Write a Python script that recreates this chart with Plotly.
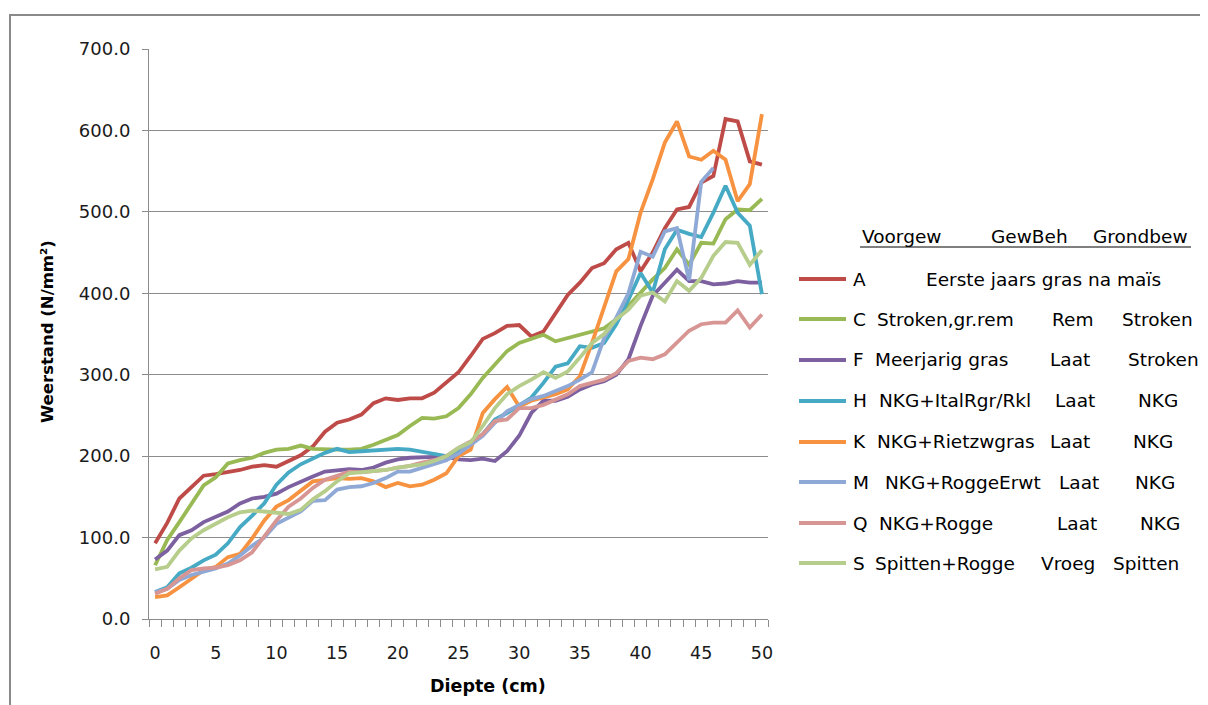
import plotly.graph_objects as go

depth = list(range(51))

A = [93,118,148,162,176,178,180,183,187,189,187,194,201,212,230,241,245,251,265,271,269,271,271,278,290,303,323,344,351,360,361,347,353,376,398,413,431,437,454,462,427,450,480,503,506,536,544,614,611,562,558]
C = [66,97,119,142,164,174,191,195,198,204,208,209,213,209,208,208,208,209,214,220,226,237,247,246,249,259,276,296,312,329,339,344,349,341,345,349,354,357,368,384,401,417,431,454,435,462,461,491,503,502,516]
F = [73,84,103,109,119,125,132,142,148,150,154,162,169,175,181,183,184,183,186,192,196,198,199,199,199,196,195,197,194,206,225,253,268,268,273,282,288,292,300,319,360,397,413,429,415,415,411,412,415,413,413]
H = [33,39,56,63,72,79,93,113,127,142,165,180,190,197,204,209,205,206,207,209,209,208,205,202,200,206,214,227,245,253,263,272,290,310,314,335,333,339,362,392,425,401,454,478,473,469,499,532,499,483,399]
K = [27,29,39,50,60,64,76,80,99,121,138,146,158,169,171,173,172,173,169,162,167,163,165,171,179,200,208,253,270,285,261,268,272,276,282,298,339,382,427,442,499,540,585,611,568,564,575,564,513,534,620]
M = [33,37,48,54,58,62,68,78,90,100,117,125,132,145,146,159,162,163,167,173,181,181,186,190,195,203,214,225,241,255,263,270,274,280,286,294,303,345,370,400,451,445,476,480,416,537,554]
Q = [31,37,50,60,62,63,66,72,82,101,121,138,148,161,171,176,181,180,181,183,186,188,192,195,200,210,218,227,243,245,259,259,263,270,276,286,290,294,302,317,321,319,325,339,354,362,364,364,379,358,374]
S = [61,64,84,99,109,117,125,131,133,132,131,129,134,147,157,169,179,180,181,183,186,188,190,194,200,210,217,237,259,276,286,294,303,296,304,321,339,350,368,380,397,401,390,415,403,419,446,463,462,435,453]

letters = ["A", "C", "F", "H", "K", "M", "Q", "S"]
series = [A, C, F, H, K, M, Q, S]
colors = ["#BE4B48", "#98B954", "#7D60A0", "#46AAC5", "#F69240", "#8FA9D6", "#D79593", "#B7CD8C"]

voorgew = ["Eerste jaars gras na maïs", "Stroken,gr.rem", "Meerjarig gras", "NKG+ItalRgr/Rkl",
           "NKG+Rietzwgras", "NKG+RoggeErwt", "NKG+Rogge", "Spitten+Rogge"]
gewbeh = ["", "Rem", "Laat", "Laat", "Laat", "Laat", "Laat", "Vroeg"]
grondbew = ["", "Stroken", "Stroken", "NKG", "NKG", "NKG", "NKG", "Spitten"]
headers = ["Voorgew", "GewBeh", "Grondbew"]
yticks = [0, 100, 200, 300, 400, 500, 600, 700]
xticks = [0, 5, 10, 15, 20, 25, 30, 35, 40, 45, 50]

# layout geometry (screen pixels); page body has an 8px margin
OFF = 8
W, H_ = 1208, 705
L, R, T, B = 149, 768, 49, 619

def px(x):
    return (x - L) / (R - L)

def py(y):
    return (B - y) / (B - T)

FONT = "DejaVu Sans"
TXT = "#1A1A1A"
fig = go.Figure()
for name, ys, col in zip(letters, series, colors):
    fig.add_trace(go.Scatter(x=depth[:len(ys)], y=ys, mode="lines", name=name,
                             line=dict(color=col, width=3.8), showlegend=False))

grid = "#8C8C8C"
fig.update_layout(
    width=W, height=H_,
    margin=dict(l=L - OFF, r=W - R + OFF, t=T - OFF, b=H_ - B + OFF),
    paper_bgcolor="white", plot_bgcolor="white",
    font=dict(family=FONT, size=17, color=TXT),
    showlegend=False,
)
fig.update_xaxes(
    range=[-0.5, 50.5], tickmode="array", tickvals=xticks, ticktext=[str(v) for v in xticks],
    ticks="", showgrid=False, showline=True, linecolor=grid, linewidth=1,
    ticklabelstandoff=18, tickfont=dict(family=FONT, size=17.5, color=TXT),
    minor=dict(tickmode="array", tickvals=[i - 0.5 for i in range(52)], ticks="outside",
               ticklen=7, tickcolor=grid, showgrid=False),
    zeroline=False,
)
fig.update_yaxes(
    range=[0, 700], tickmode="array", tickvals=yticks, ticktext=[f"{v:.1f}" for v in yticks],
    ticks="outside", ticklen=6, tickcolor=grid, showgrid=True, gridcolor=grid, gridwidth=1,
    showline=True, linecolor=grid, linewidth=1, zeroline=False,
    ticklabelstandoff=8, tickfont=dict(family=FONT, size=18, color=TXT),
)

shapes = []
ann = []
# outer chart frame
shapes.append(dict(type="rect", xref="paper", yref="paper", x0=px(10), x1=px(1260), y0=py(760), y1=py(15),
                   line=dict(color="#8A8A8A", width=2), fillcolor="rgba(0,0,0,0)", layer="below"))

# axis titles
ann.append(dict(text="<b>Diepte (cm)</b>", xref="paper", yref="paper", x=px(488), y=py(686),
                showarrow=False, font=dict(family=FONT, size=17.5, color="#000000"), xanchor="center", yanchor="middle"))
ann.append(dict(text="<b>Weerstand (N/mm²)</b>", xref="paper", yref="paper", x=px(47), y=py(332),
                showarrow=False, textangle=-90, font=dict(family=FONT, size=16.5, color="#000000"),
                xanchor="center", yanchor="middle"))

# legend header
lf = dict(family=FONT, size=18.5, color="#000000")
for txt, hx in zip(headers, [860, 989, 1091]):
    ann.append(dict(text=txt, xref="paper", yref="paper", x=px(hx), y=py(236), showarrow=False,
                    xanchor="left", yanchor="middle", font=lf))
shapes.append(dict(type="line", xref="paper", yref="paper", x0=px(860), x1=px(1191), y0=py(247), y1=py(247),
                   line=dict(color="#000000", width=1)))

rows_y = [279, 319, 360, 401, 442, 482, 523, 563]
letter_x = [851, 851, 851, 851, 851, 851, 851, 851]
v_x = [924, 875, 873, 877, 875, 883, 877, 873]
g_x = [0, 1050, 1048, 1053, 1048, 1057, 1055, 1039]
b_x = [0, 1120, 1126, 1136, 1131, 1133, 1138, 1111]
for k in range(len(letters)):
    yy = py(rows_y[k])
    shapes.append(dict(type="line", xref="paper", yref="paper", x0=px(799), x1=px(846), y0=yy, y1=yy,
                       line=dict(color=colors[k], width=3.8)))
    ann.append(dict(text=letters[k], xref="paper", yref="paper", x=px(letter_x[k]), y=yy, showarrow=False,
                    xanchor="left", yanchor="middle", font=lf))
    ann.append(dict(text=voorgew[k], xref="paper", yref="paper", x=px(v_x[k]), y=yy, showarrow=False,
                    xanchor="left", yanchor="middle", font=lf))
    if gewbeh[k]:
        ann.append(dict(text=gewbeh[k], xref="paper", yref="paper", x=px(g_x[k]), y=yy, showarrow=False,
                        xanchor="left", yanchor="middle", font=lf))
    if grondbew[k]:
        ann.append(dict(text=grondbew[k], xref="paper", yref="paper", x=px(b_x[k]), y=yy, showarrow=False,
                        xanchor="left", yanchor="middle", font=lf))

fig.update_layout(shapes=shapes, annotations=ann)
fig.write_html("out.html")
